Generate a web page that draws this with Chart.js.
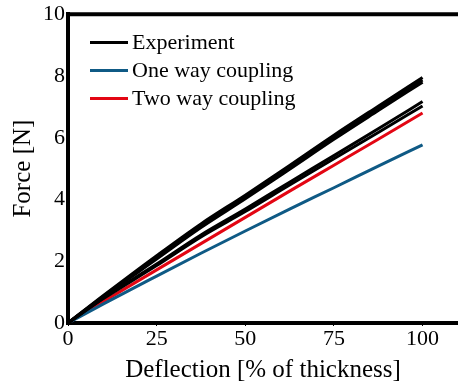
<!DOCTYPE html>
<html>
<head>
<meta charset="utf-8">
<script src="https://cdn.jsdelivr.net/npm/chart.js@4"></script>
<style>
  html, body { margin: 0; padding: 0; background: #fff; }
  .wrap { position: relative; width: 458px; height: 385px; }
  #legend { position: absolute; left: 90px; top: 28px; font-family: 'Liberation Serif', serif; font-size: 22px; color: #000; }
  #legend .item { display: flex; align-items: center; height: 28px; }
  #legend .swatch { width: 38px; height: 3px; margin-right: 4px; }
</style>
</head>
<body>
<div class="wrap">
  <canvas id="chart" width="458" height="385"></canvas>
  <div id="legend"></div>
</div>
<script>
const deflection = [0, 10, 25, 37.5, 50, 62.5, 75, 87.5, 100];
const expA = [0, 0.89, 2.18, 3.21, 4.14, 5.10, 6.08, 7.02, 7.95];
const expB = [0, 0.87, 2.12, 3.15, 4.08, 5.04, 6.02, 6.95, 7.87];
const expC = [0, 0.85, 2.07, 3.09, 4.02, 4.98, 5.95, 6.88, 7.80];
const expD = [0, 0.81, 1.91, 2.85, 3.69, 4.56, 5.42, 6.29, 7.17];
const expE = [0, 0.79, 1.86, 2.79, 3.61, 4.47, 5.32, 6.17, 7.03];
const oneWay = [0, 0.62, 1.52, 2.26, 2.98, 3.69, 4.38, 5.08, 5.77];
const twoWay = [0, 0.70, 1.72, 2.57, 3.42, 4.27, 5.11, 5.95, 6.80];
const xTicks = [0, 25, 50, 75, 100];
const yTicks = [0, 2, 4, 6, 8, 10];

const FONT = "'Liberation Serif', 'Times New Roman', serif";
const BLACK = '#000000', BLUE = '#0f5a85', RED = '#e30613';

const pts = ys => deflection.map((x, i) => ({ x, y: ys[i] }));
const line = (label, ys, color, legend) => ({
  label, data: pts(ys), borderColor: color, backgroundColor: color,
  borderWidth: 3, pointRadius: 0, cubicInterpolationMode: 'monotone', fill: false, showInLegend: legend,
});

const datasets = [
  line('Experiment', expA, BLACK, true),
  line('Experiment', expB, BLACK, false),
  line('Experiment', expC, BLACK, false),
  line('Experiment', expD, BLACK, false),
  line('Experiment', expE, BLACK, false),
  line('One way coupling', oneWay, BLUE, true),
  line('Two way coupling', twoWay, RED, true),
];

// top frame line
const topFrame = {
  id: 'topFrame',
  afterDraw(chart) {
    const { ctx, chartArea } = chart;
    ctx.save();
    ctx.strokeStyle = '#000';
    ctx.lineWidth = 4;
    ctx.beginPath();
    ctx.moveTo(chartArea.left - 2, chartArea.top);
    ctx.lineTo(chartArea.right, chartArea.top);
    ctx.stroke();
    ctx.restore();
  }
};

const chart = new Chart(document.getElementById('chart'), {
  type: 'line',
  data: { datasets },
  options: {
    responsive: false, animation: false,
    layout: { padding: { top: 13, right: 0, left: 0, bottom: 0 } },
    plugins: { legend: { display: false }, tooltip: { enabled: false } },
    scales: {
      x: {
        type: 'linear', min: 0, max: 110,
        afterBuildTicks: s => { s.ticks = xTicks.map(v => ({ value: v })); },
        afterFit: s => { s.height = 62; },
        border: { color: '#000', width: 4 },
        grid: { drawOnChartArea: false, color: '#000', tickLength: 3, lineWidth: 1 },
        ticks: { color: '#000', font: { family: FONT, size: 22 }, padding: 0, maxRotation: 0 },
        title: { display: true, text: 'Deflection [% of thickness]', color: '#000', font: { family: FONT, size: 25 }, padding: { top: 0, bottom: 0 } },
      },
      y: {
        min: 0, max: 10,
        afterBuildTicks: s => { s.ticks = yTicks.map(v => ({ value: v })); },
        afterFit: s => { s.width = 68; },
        border: { color: '#000', width: 4 },
        grid: { drawOnChartArea: false, color: '#000', tickLength: 2, lineWidth: 1 },
        ticks: { color: '#000', font: { family: FONT, size: 22 }, padding: 1 },
        title: { display: true, text: 'Force [N]', color: '#000', font: { family: FONT, size: 25 }, padding: { top: 8, bottom: 0 } },
      },
    },
  },
  plugins: [topFrame],
});

const legendEl = document.getElementById('legend');
chart.data.datasets.filter(d => d.showInLegend).forEach(d => {
  const item = document.createElement('div');
  item.className = 'item';
  item.innerHTML = `<span class="swatch" style="background:${d.borderColor}"></span><span>${d.label}</span>`;
  legendEl.appendChild(item);
});
</script>
</body>
</html>
